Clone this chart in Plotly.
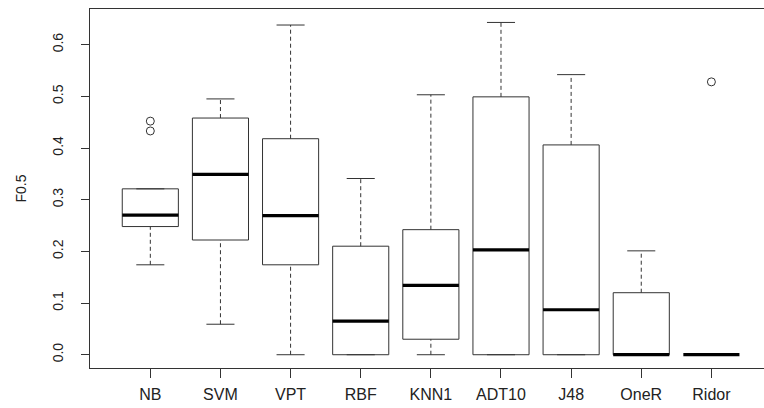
import plotly.graph_objects as go

categories = ["NB", "SVM", "VPT", "RBF", "KNN1", "ADT10", "J48", "OneR", "Ridor"]
lower_whisker = [0.174, 0.059, 0.0, 0.0, 0.0, 0.0, 0.0, 0.0, 0.0]
q1 = [0.248, 0.222, 0.174, 0.0, 0.030, 0.0, 0.0, 0.0, 0.0]
median = [0.270, 0.349, 0.269, 0.065, 0.134, 0.203, 0.087, 0.0, 0.0]
q3 = [0.321, 0.458, 0.418, 0.210, 0.242, 0.499, 0.406, 0.120, 0.0]
upper_whisker = [0.321, 0.495, 0.638, 0.341, 0.503, 0.643, 0.542, 0.201, 0.0]
outlier_cat = ["NB", "NB", "Ridor"]
outlier_val = [0.452, 0.433, 0.528]
y_ticks = [0.0, 0.1, 0.2, 0.3, 0.4, 0.5, 0.6]

BOX_HALF = 0.4
CAP_HALF = 0.2
LINE = "#333333"

fig = go.Figure()
pos = {c: i + 1 for i, c in enumerate(categories)}

for i, c in enumerate(categories):
    x = pos[c]
    # whiskers (dashed)
    if upper_whisker[i] > q3[i]:
        fig.add_trace(go.Scatter(x=[x, x], y=[q3[i], upper_whisker[i]], mode="lines",
                                 line=dict(color=LINE, width=1, dash="4px,3px"), hoverinfo="skip"))
    if lower_whisker[i] < q1[i]:
        fig.add_trace(go.Scatter(x=[x, x], y=[lower_whisker[i], q1[i]], mode="lines",
                                 line=dict(color=LINE, width=1, dash="4px,3px"), hoverinfo="skip"))
    # caps
    for w in (upper_whisker[i], lower_whisker[i]):
        if q3[i] > q1[i] or w != q1[i]:
            fig.add_trace(go.Scatter(x=[x - CAP_HALF, x + CAP_HALF], y=[w, w], mode="lines",
                                     line=dict(color=LINE, width=1), hoverinfo="skip"))
    # box
    if q3[i] > q1[i]:
        fig.add_trace(go.Scatter(
            x=[x - BOX_HALF, x + BOX_HALF, x + BOX_HALF, x - BOX_HALF, x - BOX_HALF],
            y=[q1[i], q1[i], q3[i], q3[i], q1[i]], mode="lines",
            line=dict(color=LINE, width=1), hoverinfo="skip"))
    # median
    fig.add_trace(go.Scatter(x=[x - BOX_HALF, x + BOX_HALF], y=[median[i], median[i]], mode="lines",
                             line=dict(color="black", width=3.2), hoverinfo="skip"))

fig.add_trace(go.Scatter(x=[pos[c] for c in outlier_cat], y=outlier_val, mode="markers",
                         marker=dict(symbol="circle-open", size=8, color=LINE, line=dict(width=1)),
                         hoverinfo="skip"))

fig.update_layout(
    width=764, height=408,
    margin=dict(l=90, r=0, t=9, b=40, autoexpand=False),
    paper_bgcolor="white", plot_bgcolor="white",
    showlegend=False,
    font=dict(family="Liberation Sans, Arial, sans-serif", color="#333333"),
)
fig.update_xaxes(
    range=[0.14, 9.75], tickmode="array", tickvals=[pos[c] for c in categories], ticktext=categories,
    showgrid=False, zeroline=False, showline=True, mirror=True, linecolor=LINE, linewidth=1,
    ticks="outside", ticklen=9, tickcolor=LINE, tickfont=dict(size=16, color="#222222"),
    ticklabelstandoff=3, automargin=False,
)
fig.update_yaxes(
    range=[-0.0257, 0.669], tickmode="array", tickvals=y_ticks,
    ticktext=[f"{v:.1f}" for v in y_ticks],
    showgrid=False, zeroline=False, showline=True, linecolor=LINE, linewidth=1,
    ticks="outside", ticklen=8, tickcolor=LINE, tickangle=-90,
    tickfont=dict(size=14, color="#222222"), ticklabelstandoff=12, automargin=False,
    title=dict(text="F0.5", font=dict(size=14, color="#222222"), standoff=20),
)

fig.write_html("out.html", config={"displayModeBar": False},
               post_script="document.body.style.margin='0';document.body.style.padding='0';")
